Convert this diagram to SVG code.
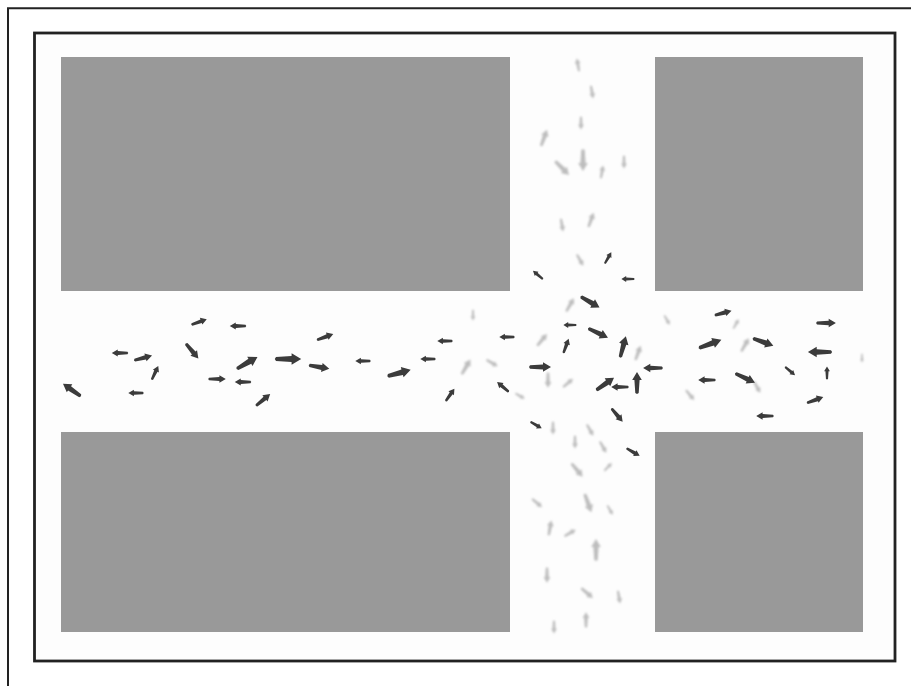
<svg xmlns="http://www.w3.org/2000/svg" xmlns:xlink="http://www.w3.org/1999/xlink" width="911" height="686" viewBox="0 0 911 686">
<style>
.blk{fill:#999999}
.dk{fill:#3a3a3a}
.lt{fill:#bdbdbd}
</style>
<defs>
<filter id="b1" x="-5%" y="-5%" width="110%" height="110%"><feGaussianBlur stdDeviation="0.75"/></filter>
<filter id="b2" x="-5%" y="-5%" width="110%" height="110%"><feGaussianBlur stdDeviation="0.9"/></filter>
<path id="p" d="M11,0 L3,-4.8 L3,-2.6 L-10,-1.7 L-11,0 L-10,1.7 L3,2.6 L3,4.8 Z"/>
</defs>
<rect width="911" height="686" fill="#ffffff"/>
<g id="frame" fill="none" stroke="#222222">
<path d="M8,686 V8.3 H911" stroke-width="2"/>
<rect x="34.5" y="33" width="860.5" height="628" stroke-width="2.8" fill="#fdfdfd"/>
</g>
<g id="blocks">
<rect class="blk" x="61" y="57" width="449" height="234"/>
<rect class="blk" x="655" y="57" width="208" height="234"/>
<rect class="blk" x="61" y="432" width="449" height="200"/>
<rect class="blk" x="655" y="432" width="208" height="200"/>
</g>
<g id="light" filter="url(#b2)">
<use xlink:href="#p" class="lt" transform="translate(578,65) rotate(-100) scale(0.6)"/>
<use xlink:href="#p" class="lt" transform="translate(592,92) rotate(80) scale(0.6)"/>
<use xlink:href="#p" class="lt" transform="translate(581,123) rotate(90) scale(0.6)"/>
<use xlink:href="#p" class="lt" transform="translate(544,138) rotate(-70) scale(0.8)"/>
<use xlink:href="#p" class="lt" transform="translate(562,168) rotate(45) scale(0.9)"/>
<use xlink:href="#p" class="lt" transform="translate(583,160) rotate(90) scale(1)"/>
<use xlink:href="#p" class="lt" transform="translate(602,172) rotate(-80) scale(0.6)"/>
<use xlink:href="#p" class="lt" transform="translate(624,162) rotate(90) scale(0.6)"/>
<use xlink:href="#p" class="lt" transform="translate(562,225) rotate(80) scale(0.6)"/>
<use xlink:href="#p" class="lt" transform="translate(591,220) rotate(-70) scale(0.7)"/>
<use xlink:href="#p" class="lt" transform="translate(580,260) rotate(60) scale(0.6)"/>
<use xlink:href="#p" class="lt" transform="translate(570,305) rotate(-60) scale(0.7)"/>
<use xlink:href="#p" class="lt" transform="translate(542,340) rotate(-50) scale(0.7)"/>
<use xlink:href="#p" class="lt" transform="translate(548,380) rotate(90) scale(0.7)"/>
<use xlink:href="#p" class="lt" transform="translate(568,383) rotate(-40) scale(0.6)"/>
<use xlink:href="#p" class="lt" transform="translate(638,353) rotate(-70) scale(0.7)"/>
<use xlink:href="#p" class="lt" transform="translate(473,315) rotate(90) scale(0.5)"/>
<use xlink:href="#p" class="lt" transform="translate(466,367) rotate(-60) scale(0.8)"/>
<use xlink:href="#p" class="lt" transform="translate(492,363) rotate(30) scale(0.6)"/>
<use xlink:href="#p" class="lt" transform="translate(520,396) rotate(30) scale(0.5)"/>
<use xlink:href="#p" class="lt" transform="translate(667,320) rotate(60) scale(0.5)"/>
<use xlink:href="#p" class="lt" transform="translate(736,324) rotate(-60) scale(0.5)"/>
<use xlink:href="#p" class="lt" transform="translate(745,345) rotate(-60) scale(0.7)"/>
<use xlink:href="#p" class="lt" transform="translate(690,395) rotate(50) scale(0.6)"/>
<use xlink:href="#p" class="lt" transform="translate(757,387) rotate(60) scale(0.6)"/>
<use xlink:href="#p" class="lt" transform="translate(862,358) rotate(90) scale(0.4)"/>
<use xlink:href="#p" class="lt" transform="translate(553,428) rotate(90) scale(0.6)"/>
<use xlink:href="#p" class="lt" transform="translate(590,430) rotate(60) scale(0.6)"/>
<use xlink:href="#p" class="lt" transform="translate(575,442) rotate(90) scale(0.6)"/>
<use xlink:href="#p" class="lt" transform="translate(603,447) rotate(60) scale(0.6)"/>
<use xlink:href="#p" class="lt" transform="translate(577,470) rotate(50) scale(0.8)"/>
<use xlink:href="#p" class="lt" transform="translate(608,467) rotate(-45) scale(0.5)"/>
<use xlink:href="#p" class="lt" transform="translate(537,503) rotate(40) scale(0.6)"/>
<use xlink:href="#p" class="lt" transform="translate(588,503) rotate(70) scale(0.9)"/>
<use xlink:href="#p" class="lt" transform="translate(610,510) rotate(60) scale(0.5)"/>
<use xlink:href="#p" class="lt" transform="translate(550,528) rotate(-80) scale(0.7)"/>
<use xlink:href="#p" class="lt" transform="translate(570,533) rotate(-30) scale(0.6)"/>
<use xlink:href="#p" class="lt" transform="translate(596,550) rotate(-90) scale(1)"/>
<use xlink:href="#p" class="lt" transform="translate(547,575) rotate(90) scale(0.7)"/>
<use xlink:href="#p" class="lt" transform="translate(587,593) rotate(40) scale(0.7)"/>
<use xlink:href="#p" class="lt" transform="translate(619,597) rotate(80) scale(0.6)"/>
<use xlink:href="#p" class="lt" transform="translate(586,620) rotate(-90) scale(0.7)"/>
<use xlink:href="#p" class="lt" transform="translate(554,627) rotate(90) scale(0.6)"/>
</g>
<g id="dark" filter="url(#b1)">
<use xlink:href="#p" class="dk" transform="translate(72,390) rotate(215) scale(1)"/>
<use xlink:href="#p" class="dk" transform="translate(120,353) rotate(180) scale(0.75)"/>
<use xlink:href="#p" class="dk" transform="translate(143,358) rotate(-15) scale(0.85)"/>
<use xlink:href="#p" class="dk" transform="translate(155,373) rotate(-65) scale(0.7)"/>
<use xlink:href="#p" class="dk" transform="translate(136,393) rotate(180) scale(0.7)"/>
<use xlink:href="#p" class="dk" transform="translate(199,322) rotate(-20) scale(0.75)"/>
<use xlink:href="#p" class="dk" transform="translate(192,351) rotate(50) scale(0.9)"/>
<use xlink:href="#p" class="dk" transform="translate(238,326) rotate(180) scale(0.75)"/>
<use xlink:href="#p" class="dk" transform="translate(247,363) rotate(-30) scale(1.1)"/>
<use xlink:href="#p" class="dk" transform="translate(288,359) rotate(0) scale(1.2)"/>
<use xlink:href="#p" class="dk" transform="translate(325,337) rotate(-20) scale(0.8)"/>
<use xlink:href="#p" class="dk" transform="translate(319,367) rotate(10) scale(0.95)"/>
<use xlink:href="#p" class="dk" transform="translate(363,361) rotate(180) scale(0.7)"/>
<use xlink:href="#p" class="dk" transform="translate(217,379) rotate(0) scale(0.8)"/>
<use xlink:href="#p" class="dk" transform="translate(243,382) rotate(180) scale(0.75)"/>
<use xlink:href="#p" class="dk" transform="translate(263,400) rotate(-40) scale(0.85)"/>
<use xlink:href="#p" class="dk" transform="translate(399,373) rotate(-15) scale(1.1)"/>
<use xlink:href="#p" class="dk" transform="translate(428,359) rotate(180) scale(0.7)"/>
<use xlink:href="#p" class="dk" transform="translate(445,341) rotate(180) scale(0.7)"/>
<use xlink:href="#p" class="dk" transform="translate(450,395) rotate(-55) scale(0.7)"/>
<use xlink:href="#p" class="dk" transform="translate(507,337) rotate(180) scale(0.7)"/>
<use xlink:href="#p" class="dk" transform="translate(503,387) rotate(220) scale(0.7)"/>
<use xlink:href="#p" class="dk" transform="translate(590,302) rotate(30) scale(1)"/>
<use xlink:href="#p" class="dk" transform="translate(570,325) rotate(180) scale(0.6)"/>
<use xlink:href="#p" class="dk" transform="translate(598,333) rotate(25) scale(1)"/>
<use xlink:href="#p" class="dk" transform="translate(566,346) rotate(-70) scale(0.7)"/>
<use xlink:href="#p" class="dk" transform="translate(623,347) rotate(-75) scale(1)"/>
<use xlink:href="#p" class="dk" transform="translate(540,367) rotate(0) scale(1)"/>
<use xlink:href="#p" class="dk" transform="translate(605,384) rotate(-35) scale(1)"/>
<use xlink:href="#p" class="dk" transform="translate(620,387) rotate(180) scale(0.8)"/>
<use xlink:href="#p" class="dk" transform="translate(637,383) rotate(-90) scale(1)"/>
<use xlink:href="#p" class="dk" transform="translate(653,368) rotate(180) scale(0.9)"/>
<use xlink:href="#p" class="dk" transform="translate(617,415) rotate(50) scale(0.8)"/>
<use xlink:href="#p" class="dk" transform="translate(536,425) rotate(30) scale(0.6)"/>
<use xlink:href="#p" class="dk" transform="translate(723,313) rotate(-15) scale(0.8)"/>
<use xlink:href="#p" class="dk" transform="translate(710,344) rotate(-20) scale(1.1)"/>
<use xlink:href="#p" class="dk" transform="translate(763,342) rotate(20) scale(1)"/>
<use xlink:href="#p" class="dk" transform="translate(826,323) rotate(0) scale(0.9)"/>
<use xlink:href="#p" class="dk" transform="translate(820,352) rotate(180) scale(1.1)"/>
<use xlink:href="#p" class="dk" transform="translate(707,380) rotate(180) scale(0.8)"/>
<use xlink:href="#p" class="dk" transform="translate(745,378) rotate(25) scale(1)"/>
<use xlink:href="#p" class="dk" transform="translate(790,371) rotate(40) scale(0.6)"/>
<use xlink:href="#p" class="dk" transform="translate(827,373) rotate(-90) scale(0.6)"/>
<use xlink:href="#p" class="dk" transform="translate(815,400) rotate(-20) scale(0.8)"/>
<use xlink:href="#p" class="dk" transform="translate(765,416) rotate(180) scale(0.8)"/>
<use xlink:href="#p" class="dk" transform="translate(608,258) rotate(-60) scale(0.6)"/>
<use xlink:href="#p" class="dk" transform="translate(538,275) rotate(220) scale(0.6)"/>
<use xlink:href="#p" class="dk" transform="translate(628,279) rotate(180) scale(0.6)"/>
<use xlink:href="#p" class="dk" transform="translate(633,452) rotate(30) scale(0.7)"/>
</g>
</svg>
